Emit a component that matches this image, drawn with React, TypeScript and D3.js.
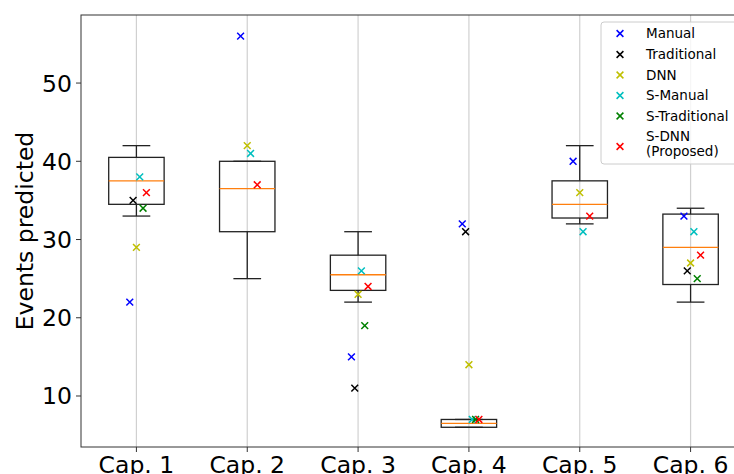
import * as d3 from "d3";

// categories and per-method predictions (null = no point drawn)
const categories = ["Cap. 1", "Cap. 2", "Cap. 3", "Cap. 4", "Cap. 5", "Cap. 6"];
const seriesNames = ["Manual", "Traditional", "DNN", "S-Manual", "S-Traditional", "S-DNN\n(Proposed)"];
const seriesColors = ["#0000ff", "#000000", "#bfbf00", "#00bfbf", "#008000", "#ff0000"];
const seriesOffsets = [-0.06, -0.03, 0, 0.03, 0.06, 0.09];

const manual = [22, 56, 15, 32, 40, 33];
const traditional = [35, null, 11, 31, null, 26];
const dnn = [29, 42, 23, 14, 36, 27];
const sManual = [38, 41, 26, 7, 31, 31];
const sTraditional = [34, null, 19, 7, null, 25];
const sDnn = [36, 37, 24, 7, 33, 28];
const seriesValues = [manual, traditional, dnn, sManual, sTraditional, sDnn];

// box plot stats (ground truth)
const whiskerLow = [33, 25, 22, 6, 32, 22];
const q1 = [34.5, 31, 23.5, 6, 32.75, 24.25];
const median = [37.5, 36.5, 25.5, 6.5, 34.5, 29];
const q3 = [40.5, 40, 28, 7, 37.5, 33.25];
const whiskerHigh = [42, 40, 31, 7, 42, 34];

const yTicks = [10, 20, 30, 40, 50];

const W = 734;
const H = 474;
const font = "'DejaVu Sans', sans-serif";

export default function App() {
  const x = d3.scaleLinear().domain([0.5, 6.5]).range([81, 746]);
  const y = d3.scaleLinear().domain([3.48, 58.7]).range([447, 15]);
  const top = y.range()[1];
  const bottom = y.range()[0];
  const left = x.range()[0];
  const right = x.range()[1];

  const boxW = x(1.25) - x(1);
  const capW = x(1.125) - x(1);
  const m = 3.4; // half size of the x markers

  const cross = (cx: number, cy: number, color: string, key: string) => (
    <path
      key={key}
      d={`M${cx - m},${cy - m}L${cx + m},${cy + m}M${cx - m},${cy + m}L${cx + m},${cy - m}`}
      stroke={color}
      strokeWidth={1.5}
      fill="none"
    />
  );

  const legendRowY = [33.5, 54.5, 75, 95.5, 116];

  return (
    <svg width={W} height={H} style={{ display: "block", position: "absolute", left: 0, top: 0, overflow: "hidden" }} fontFamily={font}>
      <rect width={W} height={H} fill="#fff" />
      {/* grid */}
      {categories.map((c, i) => (
        <line key={c} x1={x(i + 1)} x2={x(i + 1)} y1={top} y2={bottom} stroke="#b0b0b0" strokeOpacity={0.6} strokeWidth={1.2} />
      ))}
      {/* boxes */}
      {categories.map((c, i) => {
        const cx = x(i + 1);
        return (
          <g key={c} stroke="#222" strokeWidth={1.3} fill="none">
            <rect x={cx - boxW} y={y(q3[i])} width={boxW * 2} height={y(q1[i]) - y(q3[i])} />
            <line x1={cx} x2={cx} y1={y(q3[i])} y2={y(whiskerHigh[i])} />
            <line x1={cx} x2={cx} y1={y(q1[i])} y2={y(whiskerLow[i])} />
            <line x1={cx - capW} x2={cx + capW} y1={y(whiskerHigh[i])} y2={y(whiskerHigh[i])} />
            <line x1={cx - capW} x2={cx + capW} y1={y(whiskerLow[i])} y2={y(whiskerLow[i])} />
            <line x1={cx - boxW} x2={cx + boxW} y1={y(median[i])} y2={y(median[i])} stroke="#ff7f0e" />
          </g>
        );
      })}
      {/* points */}
      {seriesValues.map((vals, s) =>
        vals.map((v, i) => (v == null ? null : cross(x(i + 1 + seriesOffsets[s]), y(v), seriesColors[s], `${s}-${i}`)))
      )}
      {/* spines */}
      <rect x={left} y={top} width={right - left} height={bottom - top} fill="none" stroke="#333" strokeWidth={1} />
      {/* y axis */}
      {yTicks.map((t) => (
        <g key={t}>
          <line x1={left - 5} x2={left} y1={y(t)} y2={y(t)} stroke="#333" />
          <text x={left - 9} y={y(t)} dy="0.36em" textAnchor="end" fontSize={23.5} fill="#000">
            {t}
          </text>
        </g>
      ))}
      <text transform={`translate(33,${(top + bottom) / 2}) rotate(-90)`} textAnchor="middle" fontSize={23.5} fill="#000">
        Events predicted
      </text>
      {/* x axis */}
      {categories.map((c, i) => (
        <g key={c}>
          <line x1={x(i + 1)} x2={x(i + 1)} y1={bottom} y2={bottom + 5} stroke="#333" />
          <text x={x(i + 1)} y={473} textAnchor="middle" fontSize={23.5} fill="#000">
            {c}
          </text>
        </g>
      ))}
      {/* legend */}
      <g>
        <rect x={601} y={22} width={160} height={142} rx={3} fill="#fff" fillOpacity={0.8} stroke="#cccccc" />
        {seriesNames.map((name, s) => {
          const lines = name.split("\n");
          const ty = s < 5 ? legendRowY[s] : 136.5;
          const my = s < 5 ? legendRowY[s] : 146.5;
          return (
            <g key={name}>
              {cross(620, my, seriesColors[s], `lg-${s}`)}
              {lines.map((ln, k) => (
                <text key={ln} x={646} y={ty + k * 14.5} dy="0.36em" fontSize={13.5} fill="#000">
                  {ln}
                </text>
              ))}
            </g>
          );
        })}
      </g>
    </svg>
  );
}
